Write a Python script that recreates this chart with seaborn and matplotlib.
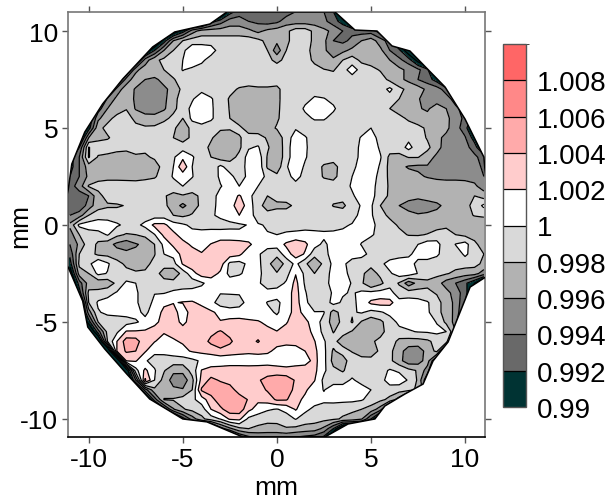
import numpy as np
import matplotlib
matplotlib.use("Agg")
import matplotlib.pyplot as plt
from matplotlib.colors import ListedColormap, BoundaryNorm
from matplotlib.patches import Polygon
import seaborn as sns

x_mm = [i * 0.5 for i in range(-22, 23)]
y_mm = [i * 0.5 for i in range(22, -23, -1)]
outside = -14

# map values as (value - 1) * 1000, one row per y from 11 down to -11 in 0.5 mm steps
# row_start is the x of the first value of the row, the rest of the row is off the wafer
row_start = [-2.5, -3.5, -5.5, -6, -7, -7.5, -8, -8.5, -9, -9.5, -10, -10, -10.5, -10.5, -11, -11,
             -11, -11, -11, -11, -11, -11, -11, -11, -11, -11, -11, -11,
             -11, -11, -10.5, -10.5, -10, -10, -9.5, -9, -8.5, -8, -7.5, -7, -6.5, -6, -5, -3.5, -2]
dev = [
    [-9,-7,-7,-7,-7,-7,-7,-6,-5,-5,-6,-8],
    [-9,-7,-5,-5,-6,-6.5,-7,-6.5,-5,-5,-5,-5,-5.5,-7,-9,-12],
    [-12,-9,-5,-3,-3,-3,-3,-3,-3.5,-4.5,-3.5,-3,-2.5,-1,-1,-2.5,-3.5,-4.5,-6,-6.5,-7,-7,-9],
    [-9,-4,-2,-1,-1,-1,-1,-1,-1,-1,-1.5,-2.5,-3.5,-2.5,-1,-1,-2.5,-3.5,-6,-6.5,-5.5,-4,-3,-5,-7,-12],
    [-12,-8,-4,-2,-0.5,1.5,1.5,1,-1,-1,-1,-1,-1,-2,-5.2,-2,-1,-1.5,-2.5,-3.5,-5.5,-4.5,-3.5,-3,-3,-3.5,-6,-7.5,-12],
    [-12,-5,-2.5,-1.5,-1,0,1.5,0.5,-1,-1,-1,-1,-1,-1,-1.5,-2.5,-1.5,-1,-1,-2.5,-3.5,-3.5,-2,-1,-2.5,-3,-3,-4,-5.5,-7,-11],
    [-11,-4.5,-3,-2.1,-2,-1,0.1,-0.5,-1,-1,-1,-1,-1.3,-1,-1,-1,-1,-1,-1,-1,-1.2,-1.9,-2.2,-0.8,1,-0.8,-1.3,-2.2,-2.8,-3.5,-4.5,-5.5,-7.5],
    [-12,-5,-3,-4,-4.5,-3.2,-2.2,-1,-1,-1,-1,-1,-1,-1,-1,-1,-1,-1,-1,-1,-1,-1,-1,-1,-0.2,-1,-1,-1,-1,-2.5,-3.5,-4.5,-6,-7,-9],
    [-12,-5,-3,-4.2,-5,-5,-4.5,-3.2,-1.5,-1,-0.5,-1,-1,-1.5,-2.2,-2.5,-2.3,-2.3,-2.5,-1,-1,-0.8,-0.6,-1,-1,-1,-1,-1,-1,-1,0.5,-1.5,-2.5,-3,-4.5,-5,-7,-10],
    [-12,-5.5,-3.5,-3,-4.3,-5,-5,-4.5,-2.7,-1,-0.2,1,0.2,-1,-2.2,-3,-3,-3,-3,-2.5,-1,-1,-0.5,0.2,0.1,-0.5,-1,-1,-1,-1,-1,-1,-2,-2.7,-3.8,-5,-5,-5,-7,-12],
    [-12,-7,-4,-2.8,-2.1,-4.2,-5,-5,-4.3,-2.5,-1,0.5,1.5,0.3,-1,-2.1,-3,-3.2,-3.2,-3.2,-2.5,-0.8,-1,0.3,1.2,1,0.3,-1,-1,-1,-1,-1,-2,-2.8,-2.8,-3.8,-4.3,-3,-4,-5.5,-7,-12],
    [-10,-4.5,-2.5,-1.5,-1.2,-2.5,-3.2,-3.3,-2.5,-1.5,-2,0.5,1.5,0.3,-1,-2,-3.2,-3.5,-3.5,-3,-2.3,-1,-1,-0.5,0.2,0.2,-0.6,-1,-1,-1,-1,-1,-1,-1.5,-2.3,-3,-3.3,-3.4,-3.5,-5,-6.5,-9],
    [-12,-9,-2.5,-1.5,-1,-1,-1.5,-1.7,-1.6,-1,-1.5,-3.5,-1.2,-1,-1,-1.6,-1.7,-1.5,-3,-3.4,-2.8,-1.8,-1,-0.2,-1,-1,-1,-1,-1,-1,-1,0,-1,-1,-1,-1.2,-1.5,-2.3,-3.2,-3.5,-5.2,-7,-12],
    [-12,-4,-2.5,-2.2,-1.3,-1,-1,-1,-1,-1,-2,-3,-1.5,-1,-1.7,-3.2,-3.3,-2.2,-1.2,-1,-2.3,-3.3,-1,1,0.2,-1,-1,-1,-1,-1,0.2,1.2,-1,-1,-1,-0.5,-1,-2.2,-3.5,-4.5,-4,-5.8,-9,-12],
    [-12,-8,0.1,-1,-1,-1.5,-1.7,-1.5,-1.7,-1.2,-1,-1,-0.8,-1,-1,-2.5,-3.5,-3.5,-2.4,-0.2,0.2,-1.7,-3.5,-1,1.5,0.3,-1,-1,-1,-1,-0.4,0.2,1.5,-0.4,-1,-1,0.6,-1,-1.5,-3.2,-5,-5,-5.2,-7,-11],
    [-9,-6,0.2,-2.2,-2.5,-2.6,-2.5,-2.2,-2.2,-1.8,-1,-0.3,1.5,0.2,-1,-2,-3,-2.8,-1.5,0.8,1.2,-2.2,-3.5,-1,1.5,0.2,-1,-1,-1,-1,-1,0.6,1.5,0.2,-2.5,-2.6,-1.9,-1.9,-3,-4.5,-5.2,-5.3,-5.3,-5.5,-7],
    [-9,-6,-3,-2.6,-3,-3.2,-3,-3,-2.9,-2.6,-1.5,0,3.5,0,-1,-1.5,0.5,-1,-1,0.7,1.5,-2.3,-3.2,-0.2,1.2,-0.3,-1,-2.3,-2.8,-1,-0.5,0.8,1.5,-0.3,-2.6,-3.5,-4.2,-4.4,-4.2,-4.6,-5,-5,-5,-5,-6.5],
    [-8,-6,-3.5,-2.5,-2.5,-2.5,-2.7,-2.8,-2.5,-2.2,-1.2,0.2,0.8,0.1,-1,-1,0.3,0.6,-1,0.5,1,-0.5,-1.5,-0.5,0.5,-0.5,-1,-2.2,-2.6,-1,0,0.9,1.2,-0.8,-2.4,-3.2,-3.2,-3.6,-4.2,-4.6,-4.6,-4.6,-4.6,-4.8,-6],
    [-7,-5,-1.8,-1.5,-1.2,-1.2,-1,-1,-1,-1,-1,-0.8,0,-0.8,-1,-0.8,-0.1,0.6,0,1,0,-1,-1,-1,-0.5,-1,-1,-1,-1,-1,0.3,1,1,-1.2,-2.2,-2.5,-2.4,-2.3,-2.4,-2.6,-3,-3,-3.2,-3.6,-5],
    [-7,-7,-6,-2.5,-1.4,-1,-1,-1,-1,-1.5,-1.8,-2.6,-2.2,-2.6,-1.6,-0.6,0.5,1,2.2,0.8,-1.5,-2,-1.2,-1,-1,-1,-1,-1,-1.5,-1.3,-0.3,1,0.9,-1.4,-2.2,-3.2,-3.5,-3.5,-3,-3,-2.8,-2.6,-2.5,-2,-3],
    [-7,-7.5,-5.2,-2.6,-2.2,-2.2,-1.9,-1.2,-1,-1,-1.5,-3,-4.5,-3,-1.5,-0.4,0.4,1.2,3,1.2,-1.5,-2.6,-2.5,-2.5,-1.6,-1,-1,-1,-2.1,-2.4,-1,0.2,0.3,-2,-3.2,-4,-4.5,-5.1,-5,-4.4,-3.5,-3,-2.5,-1.5,0.5],
    [-6,-5,-2,-1.2,-1.2,-1.2,-1.1,-1,-1,-1,-1,-2,-2.4,-1.8,-1,-0.2,0.3,1,2,1,-1,-1.5,-1,-1,-1,-1,-1,-1,-1,-1,-0.5,0.4,0.3,-1.5,-2.3,-3.2,-3.6,-3.8,-3.6,-3.4,-3.2,-2.8,-2.5,-1.9,-1.5],
    [-3.5,0.5,1,1.5,1.2,0.3,-0.5,-0.5,0.5,2.5,2.5,0.8,0.3,-0.4,-0.4,-0.5,-0.6,-0.5,-0.3,0.1,0.2,-0.2,-0.5,-0.5,-1,-1,-1,-1,-0.8,-0.2,0.1,0.9,0.8,-1,-1.5,-2.2,-3,-3.2,-3,-2.5,-2.2,-2.4,-2.6,-3.2,-4],
    [-5,-2,-1,-1,0.2,-1.5,-2.2,-2,-1.5,-0.1,2.5,2.6,1,0.6,0.4,0.6,0.7,0.7,0.4,0.5,0.3,0.1,0,0.2,0.6,0.9,0.7,0.5,0.5,0.3,0.1,0.5,0.4,-1,-1.3,-1.6,-2.1,-2.2,-1.9,-1.5,-1.6,-2,-2.5,-2.8,-3.5],
    [-6,-3.5,-0.8,-2.4,-3.2,-4.5,-5.2,-4.2,-3.5,-2,0.5,2.5,2.8,1.6,1,2.1,3,3,3,2.5,0.8,0.8,0.8,2.4,3.2,2.4,0.8,-0.5,1,1,0.9,-0.1,-1.5,-1,-1,-1,-0.7,0,1,0.9,-1.8,0.1,0.8,-1.5,-3],
    [-7.5,-2,-1,-2.5,-2.6,-3.1,-3.3,-3.5,-3.2,-2.1,0,0.5,2.8,3,2.2,3,3.4,3,2.5,0.5,0.3,-1,-1.3,1,3,1.8,-1.3,-0.4,0.5,0.5,1,0.7,-0.6,-1,-1.2,-1,-0.5,1,1.5,0.4,-1.2,-1.2,0.4,-1,-2],
    [-9,-1.5,-0.7,2,0.3,-1.3,-2.4,-2.6,-2.5,-1.5,-1.3,-0.7,2.2,3.2,2.3,3,3,-0.5,-0.8,0.5,0.5,-1.3,-3.5,-1.3,0.5,-1.6,-3.5,-1.5,0.5,0.5,-1,-1.3,-1.5,-0.5,0.8,1.5,1.2,-0.8,-1.2,-1.2,-1.2,-1.2,-1.2,-1.3,-2.5],
    [-12,-3,-2,0.5,-0.1,-0.9,-1.4,-1.8,-1.7,-1.2,-2.8,-3.5,-1.2,1.2,3,3,1.6,-0.6,-0.2,0.5,0.5,-0.9,-1.8,-0.8,1.9,-0.5,-2,-0.7,0.5,0.5,-0.5,-1.7,-2.7,-1.6,-0.3,1,1.2,-0.1,-1,-1.5,-1.8,-2.5,-3,-3.2,-5],
    [-14,-7,-3.1,-3.3,-3.2,-1.5,0.4,0,-1.5,-1.5,-1.3,-1.2,-1.2,-1,-0.3,0.8,1.5,1,1,1,0.5,-1.5,-1,0.3,2.6,-0.3,-0.2,-0.5,0.5,0.6,-0.1,-1.6,-4,-2.5,-0.8,-2.2,-5.2,-3.3,-2.5,-3,-5,-6,-7.5,-10,-14],
    [-14,-9,-1.5,-1.3,-0.7,0.2,0.5,0.4,-1.3,-0.1,-0.1,0.4,0.8,0.8,0.8,1,0.1,0.2,0.2,1,1,1,1,1,2.8,0.2,-1.5,-1.2,0.3,0.2,-0.2,0.4,0.6,0.8,0.8,-1.2,-1,-1.2,-1.5,-2.2,-3.2,-5,-7,-12],
    [-14,-2,0.3,0.7,0.7,0.6,0.4,-1.3,0.6,1.6,1.9,2.1,2.2,1.6,0.6,-0.9,-1.2,-0.8,0.8,1,-0.1,-0.5,1,2.8,0.6,-1.5,-1.2,0.7,-0.3,-0.5,0.7,2.4,2.8,2.6,0.8,0.9,0.8,0.2,-1.2,-3,-4.5,-8,-14],
    [-14,-5,-0.2,0.5,0.6,0.7,0.5,-0.4,0.9,2.5,2.9,0.8,3,2.8,2.3,1.5,1,1,0.8,0.7,0.4,-0.2,0.8,3,1.2,0.1,0.1,-2.8,-1.2,-0.2,0.2,-0.6,-0.2,0.5,0.7,0.8,0.8,0.3,-1.2,-3,-4.5,-9,-14],
    [-9,-2,-1.2,-1,-0.8,-0.2,0.5,1.5,2.7,3,1.4,3,3,2.7,2.1,2.5,2.6,2.4,2.2,1.5,0.6,1.8,3.2,2.6,0.8,-0.6,-3,-1.5,0.2,-2.2,-3.3,-2.5,-0.8,0.4,0.7,0.8,0.8,-0.1,-2.5,-4.8,-14],
    [-14,-7,-1.3,-0.4,2.2,2.2,2.3,2.8,2.2,2.5,3,3.2,3.3,3.5,4.2,3.2,2.8,2.9,3,2.6,2.1,2.8,3.2,3.2,1.2,-0.5,-2.1,-1.2,-2.2,-3.4,-3.4,-3,-0.6,-0.5,-0.2,0.1,0.2,0.4,0,-4,-14],
    [-14,-2,2,5,4.9,2.6,2.1,1.2,1.8,2.2,2.4,3,4.5,5.8,4.5,2.6,3.2,4.2,2.7,2.5,2.6,2.8,3,2.1,0.2,-1.3,-3.1,-3.5,-3.5,-2.5,-1.2,-0.8,-2.6,-2.8,-2.8,-2.4,-1.3,-0.8,-12],
    [-14,2.1,4.3,4,2.2,0.4,0.6,0.9,1.5,2.2,2.5,2.7,3.2,2.7,2.5,2.4,2.5,2.3,1.6,1,1,2,2.5,0.5,-2.3,-1,-2.2,-3.4,-3.3,-1.5,-1.5,-3.2,-5,-5.2,-3.2,-1.5,-10,-14],
    [-14,2.1,2.2,0.2,-0.7,-1,-0.9,-1,-0.5,0.3,0.7,0.8,1,1,0.9,1,1.1,0.7,0.6,1,1.2,2.6,0.6,-2.7,-3.2,-0.5,-1,-1.2,-1,-1.5,-3.3,-5.3,-5,-3,-9,-14],
    [-12,-0.8,2.5,0.2,-1.8,-3.6,-3.4,-1.2,2.1,2.8,2.9,3,3,3,3,3.1,3.1,2.8,2.9,3,2.5,0.4,-1.5,-2.2,-1,-1,-1,-0.7,0.2,-0.3,-1.4,-2.2,-5,-12],
    [-6,4.3,0,-2.8,-4.8,-5.3,-2.6,2.8,4.5,3.8,3.1,3,3.2,3.8,4.6,5,5,3.8,3,2.1,-0.5,-0.8,-0.8,0.3,-0.8,-1,-0.8,1,1,-0.2,-2.3,-8],
    [-7,-2.5,-2.8,-3.6,-3.8,-2,4.3,5.1,5.2,5,3,2.6,3.2,4.2,5,5.1,3.4,2.3,1,-0.1,1,1,1,1,0,-0.9,-1,-1.1,-1.2,-2.5,-6,-14],
    [-7,-1.9,-1.8,-1.2,-0.5,1,3.2,5.3,5.6,5.2,3.8,2.5,3,4.3,4.2,2.6,1.6,0.9,0.5,0.6,0.6,0.5,0.2,-0.8,-1.5,-2.5,-5,-12],
    [-9,-4.2,-2.2,-1.4,-1,2,3.5,5.2,5.2,2.6,1,0.2,-0.1,0.5,2.2,0.5,-0.5,-1,-1.1,-1.5,-1.6,-2,-2.8,-5,-12],
    [-9,-5,-2.5,-1,0.1,2.3,2.5,-0.5,-1,-1.2,-1.1,-0.8,0.1,-1,-1.2,-1.4,-1.7,-2.2,-2.8,-3.8,-8,-14],
    [-12,-7,-4.5,-2.5,-2,-2.5,-3,-3,-2.2,-2.5,-2.8,-3,-4.5,-8,-14],
    [-9,-7,-6,-5.5,-5.5,-6,-6.5,-7,-7.5,-9],
]

# outline of the wafer
rim_x = [-2.66,3.09,4.15,5.32,6.12,7.07,8.94,10.0,11.0,11.2,11.2,11.1,10.27,9.1,8.3,7.77,6.81,5.74,5.21,3.78,
         2.55,-1.81,-3.72,-5.0,-6.76,-7.98,-9.15,-10.05,-10.32,-11.12,-11.12,-10.9,-10.21,-9.26,-8.19,-6.6,-5.43,-3.56]
rim_y = [10.98,10.98,10.05,10.0,9.23,8.97,7.11,5.46,3.5,1.3,-1.75,-2.68,-3.2,-6.03,-7.01,-8.2,-8.71,-9.33,-10.0,-10.26,
         -10.93,-10.93,-10.15,-10.0,-8.97,-7.68,-6.39,-5.26,-3.92,-2.11,1.6,3.14,4.79,6.24,7.53,9.18,9.95,10.36]

levels = [0.99, 0.992, 0.994, 0.996, 0.998, 1.0, 1.002, 1.004, 1.006, 1.008, 1.01]
band_colors = ["#003333", "#696969", "#8c8c8c", "#b2b2b2", "#d9d9d9", "#ffffff",
               "#ffcccc", "#ffaaaa", "#ff8888", "#ff6666"]
ticks_xy = [-10, -5, 0, 5, 10]

sns.set_style("ticks")
plt.rcParams["font.family"] = ["Liberation Sans", "DejaVu Sans"]
plt.rcParams["axes.unicode_minus"] = False
plt.rcParams["text.color"] = "black"
plt.rcParams["axes.labelcolor"] = "black"
plt.rcParams["xtick.labelcolor"] = "black"
plt.rcParams["ytick.labelcolor"] = "black"

# put the rows on the full grid
grid = np.full((len(y_mm), len(x_mm)), float(outside))
for i, row in enumerate(dev):
    j = x_mm.index(row_start[i])
    row = row[:len(x_mm) - j]
    grid[i, j:j + len(row)] = row

values = 1 + grid / 1000
X, Y = np.meshgrid(x_mm, y_mm)

cmap = ListedColormap(sns.color_palette(band_colors, n_colors=10))
cmap.set_under(band_colors[0])
norm = BoundaryNorm(levels, cmap.N)

fig = plt.figure(figsize=(6.06, 5.02), dpi=100)
ax = fig.add_axes([68 / 606, 1 - 438 / 502, 417 / 606, 425 / 502])

cf = ax.contourf(X, Y, values, levels=levels, cmap=cmap, norm=norm, extend="min")
cl = ax.contour(X, Y, values, levels=levels[:-1], colors="black", linewidths=0.9)

# cut the map to the wafer outline
wafer = Polygon(np.column_stack([rim_x, rim_y]), closed=True, transform=ax.transData,
                facecolor="none", edgecolor="black", linewidth=1.1, zorder=5)
ax.add_patch(wafer)
cf.set_clip_path(wafer)
cl.set_clip_path(wafer)

ax.set_xlim(-11.1, 11.06)
ax.set_ylim(-10.93, 10.98)
ax.set_xticks(ticks_xy)
ax.set_yticks(ticks_xy)
ax.set_xlabel("mm", fontsize=19)
ax.set_ylabel("mm", fontsize=19)
ax.xaxis.set_label_coords(0.5, -0.09)
ax.yaxis.set_label_coords(-0.085, 0.5)
ax.tick_params(axis="both", direction="out", length=4, width=1, color="#555555",
               labelsize=19, top=True, right=True, pad=3)
for side in ["left", "top", "right"]:
    ax.spines[side].set_color("#777777")
    ax.spines[side].set_linewidth(1.2)
ax.spines["bottom"].set_color("black")
ax.spines["bottom"].set_linewidth(1.2)

# colour scale
cax = fig.add_axes([503 / 606, 1 - 408 / 502, 23 / 606, 363 / 502])
sm = plt.cm.ScalarMappable(norm=norm, cmap=cmap)
cb = fig.colorbar(sm, cax=cax, ticks=levels[:-1], format="%g", drawedges=True)
cb.dividers.set_color("black")
cb.dividers.set_linewidth(0.9)
cb.outline.set_edgecolor("#555555")
cb.outline.set_linewidth(1.0)
cb.ax.tick_params(length=0, labelsize=20, pad=8)

fig.savefig("out.png", dpi=100)
